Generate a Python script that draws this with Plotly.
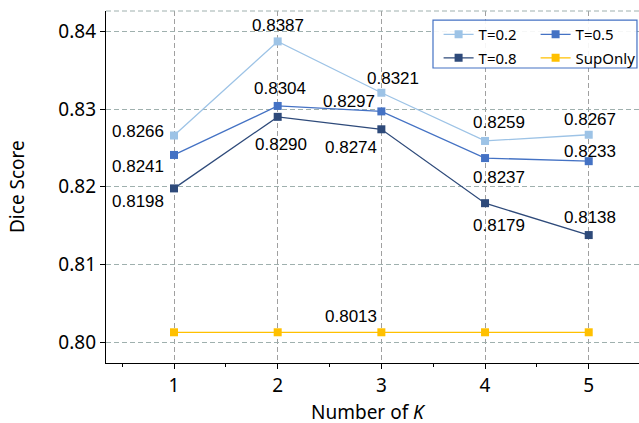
import plotly.graph_objects as go

k_values = [1, 2, 3, 4, 5]
t02 = [0.8266, 0.8387, 0.8321, 0.8259, 0.8267]
t05 = [0.8241, 0.8304, 0.8297, 0.8237, 0.8233]
t08 = [0.8198, 0.8290, 0.8274, 0.8179, 0.8138]
sup_only = [0.8013, 0.8013, 0.8013, 0.8013, 0.8013]
y_ticks = [0.80, 0.81, 0.82, 0.83, 0.84]

series = [
    ("T=0.2", t02, "#9dc3e6", "legend", "g1"),
    ("T=0.5", t05, "#4472c4", "legend2", "g2"),
    ("T=0.8", t08, "#2e4a7a", "legend", "g3"),
    ("SupOnly", sup_only, "#ffc000", "legend2", "g4"),
]

fig = go.Figure()
for name, vals, color, leg, grp in series:
    fig.add_trace(go.Scatter(
        x=k_values, y=vals, name=name, mode="lines+markers",
        line=dict(color=color, width=1.3),
        marker=dict(symbol="square", size=8, color=color),
        legend=leg, legendgroup=grp,
    ))

# label placement per point: (xanchor, xshift, yshift)
label_pos = {
    "T=0.2": [("right", -8, 4), ("center", 0, 16), ("center", 12, 14), ("center", 14, 18), ("center", 1, 15)],
    "T=0.5": [("right", -8, -12), ("center", 2, 17), ("right", -4, 10), ("center", 14, -19), ("center", 1, 10)],
    "T=0.8": [("right", -8, -13), ("center", 3, -28), ("right", -2, -18), ("center", 14, -22), ("center", 1, 18)],
}
label_font = dict(family="Liberation Sans, Arial", size=17, color="black")
for name, vals, color, leg, grp in series:
    if name in label_pos:
        for xv, yv, (xa, xs, ys) in zip(k_values, vals, label_pos[name]):
            fig.add_annotation(x=xv, y=yv, text=f"{yv:.4f}", showarrow=False,
                               xanchor=xa, yanchor="middle", xshift=xs, yshift=ys,
                               font=label_font)
# SupOnly single label at K=3
fig.add_annotation(x=k_values[2], y=sup_only[2], text=f"{sup_only[2]:.4f}", showarrow=False,
                   xanchor="right", yanchor="middle", xshift=-2, yshift=16, font=label_font)

title_font = dict(family="Noto Sans", size=19, color="black")
# axis titles
fig.add_annotation(xref="paper", yref="paper", x=0, y=0.5, xshift=-89, text="Dice Score",
                   textangle=-90, showarrow=False, xanchor="center", yanchor="middle", font=title_font)
fig.add_annotation(xref="paper", yref="paper", x=0.4927, y=0, yshift=-49, text="Number of <i>K</i>",
                   showarrow=False, xanchor="center", yanchor="middle", font=title_font)

tick_font = dict(family="Noto Sans", size=19, color="black")
legend_font = dict(family="Noto Sans", size=15, color="black")

fig.update_layout(
    width=639, height=423,
    margin=dict(l=106, r=0, t=11, b=60, autoexpand=False),
    plot_bgcolor="white", paper_bgcolor="white",
    font=dict(family="Noto Sans", color="black"),
    xaxis=dict(
        range=[0.344, 5.485], tickvals=k_values, ticktext=[str(k) for k in k_values],
        showline=True, linecolor="black", linewidth=1.3,
        ticks="outside", ticklen=5, tickcolor="black", tickwidth=1.3,
        showgrid=True, gridcolor="#a0a0a0", gridwidth=1, griddash="5px,3px",
        minor=dict(ticks="outside", ticklen=3, tickcolor="black", tickwidth=1.3,
                   tick0=0.5, dtick=0.5, showgrid=False),
        tickfont=tick_font, zeroline=False, automargin=False,
    ),
    yaxis=dict(
        range=[0.79735, 0.84261], tickvals=y_ticks, tickformat=".2f",
        showline=True, linecolor="black", linewidth=1.3,
        ticks="outside", ticklen=5, tickcolor="black", tickwidth=1.3,
        showgrid=True, gridcolor="#9fb0ae", gridwidth=1, griddash="5px,3px",
        tickfont=tick_font, zeroline=False, automargin=False,
    ),
    legend=dict(x=0.624, y=0.98, xanchor="left", yanchor="top",
                bgcolor="rgba(0,0,0,0)", borderwidth=0, tracegroupgap=1,
                font=legend_font),
    legend2=dict(x=0.806, y=0.98, xanchor="left", yanchor="top",
                 bgcolor="rgba(0,0,0,0)", borderwidth=0, tracegroupgap=1,
                 font=legend_font),
    shapes=[
        dict(type="line", xref="paper", yref="paper", x0=0, x1=1, y0=1, y1=1,
             line=dict(color="#9fb0ae", width=1, dash="5px,3px")),
        dict(type="rect", xref="paper", yref="paper", x0=0.6135, x1=0.9962, y0=0.838, y1=0.974,
             line=dict(color="#4472c4", width=1.2), fillcolor="rgba(255,255,255,0.9)", layer="above"),
    ],
    showlegend=True,
)

# remove the default page margin so the 639x423 figure fills the window exactly
fig.write_html("out.html", config={"displayModeBar": False},
               post_script="document.body.style.margin='0';document.body.style.overflow='hidden';")
